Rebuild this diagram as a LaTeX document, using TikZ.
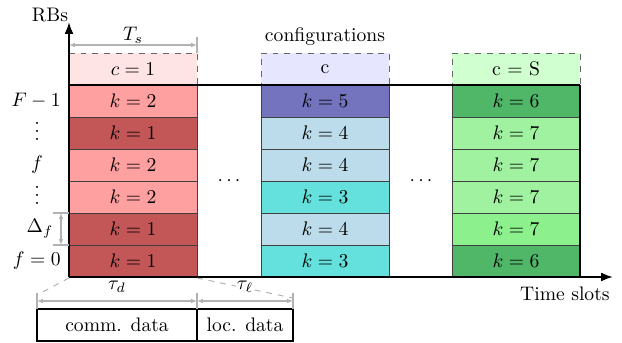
\documentclass[tikz,border=0pt]{standalone}
\usetikzlibrary{arrows.meta}
\definecolor{hA}{RGB}{255,228,230}
\definecolor{hB}{RGB}{230,230,255}
\definecolor{hC}{RGB}{208,255,208}
\definecolor{rL}{RGB}{255,160,160}
\definecolor{rD}{RGB}{195,87,87}
\definecolor{bV}{RGB}{115,115,190}
\definecolor{bL}{RGB}{188,220,235}
\definecolor{bT}{RGB}{100,225,220}
\definecolor{gD}{RGB}{80,183,105}
\definecolor{gL}{RGB}{160,242,160}
\definecolor{gB}{RGB}{140,240,140}
\newcommand{\tightvdots}{\raisebox{0pt}[9.6pt][0pt]{$\vdots$}}
\begin{document}
\begin{tikzpicture}[x=0.51pt,y=-0.51pt,
  cell/.style={draw=black!75, line width=0.4pt, minimum width=65.28pt, minimum height=16.32pt, inner sep=0pt},
  hdr/.style={draw=black!60, dashed, line width=0.5pt, minimum width=65.28pt, minimum height=16.32pt, inner sep=0pt},
  dim/.style={black!30, line width=0.6pt, {Latex[length=3pt,width=2.4pt]}-{Latex[length=3pt,width=2.4pt]}},
  tickline/.style={black!30, line width=0.6pt},
  zoomline/.style={black!30, dashed, line width=0.5pt},
  axis/.style={line width=1pt, -{Latex[length=6pt,width=4.5pt]}},
  lbl/.style={inner sep=1pt},
  vdot/.style={inner sep=0pt},
  databox/.style={draw, line width=0.6pt, minimum height=16.32pt, inner sep=0pt}]
\useasboundingbox (0,0) rectangle (622,343);

% headers
\node[hdr, fill=hA] (h1) at (133,69) {$c=1$};
\node[hdr, fill=hB] (h2) at (325,69) {c};
\node[hdr, fill=hC] (h3) at (516,69) {c = S};

% column 1
\node[cell, fill=rL] (a1) at (133,101) {$k=2$};
\node[cell, fill=rD] (a2) at (133,133) {$k=1$};
\node[cell, fill=rL] (a3) at (133,165) {$k=2$};
\node[cell, fill=rL] (a4) at (133,197) {$k=2$};
\node[cell, fill=rD] (a5) at (133,229) {$k=1$};
\node[cell, fill=rD] (a6) at (133,261) {$k=1$};
% column 2
\node[cell, fill=bV] (b1) at (325,101) {$k=5$};
\node[cell, fill=bL] (b2) at (325,133) {$k=4$};
\node[cell, fill=bL] (b3) at (325,165) {$k=4$};
\node[cell, fill=bT] (b4) at (325,197) {$k=3$};
\node[cell, fill=bL] (b5) at (325,229) {$k=4$};
\node[cell, fill=bT] (b6) at (325,261) {$k=3$};
% column 3
\node[cell, fill=gD] (c1) at (516,101) {$k=6$};
\node[cell, fill=gL] (c2) at (516,133) {$k=7$};
\node[cell, fill=gL] (c3) at (516,165) {$k=7$};
\node[cell, fill=gL] (c4) at (516,197) {$k=7$};
\node[cell, fill=gB] (c5) at (516,229) {$k=7$};
\node[cell, fill=gD] (c6) at (516,261) {$k=6$};

% dots
\node (d1) at (229,181) {$\cdots$};
\node (d2) at (421,181) {$\cdots$};

% frame and axes
\coordinate (O) at (69,277);
\coordinate (TL) at (69,85);
\coordinate (TR) at (580,85);
\coordinate (BR) at (580,277);
\coordinate (Xend) at (613,277);
\coordinate (Yend) at (69,22);
\draw[line width=1pt] (TL) -- (TR);
\draw[line width=0.8pt] (TR) -- (BR);
\draw[axis] (O) -- (Xend);
\draw[axis] (O) -- (Yend);
\node[lbl] (rbs) at (50,15) {RBs};
\node[lbl, anchor=north east] (ts) at (612,285) {Time slots};

% left labels
\node[lbl, anchor=east] (lF) at (63,101) {$F-1$};
\node[vdot] (lv1) at (37,131) {\tightvdots};
\node[vdot] (lf) at (37,165) {$f$};
\node[vdot] (lv2) at (37,195) {\tightvdots};
\node[vdot] (lD) at (40,229) {$\Delta_f$};
\node[lbl, anchor=east] (l0) at (63,261) {$f=0$};

% Delta_f dimension
\coordinate (df1) at (61,213);
\coordinate (df2) at (61,245);
\draw[dim] (df1) -- (df2);
\draw[tickline] (53,213) -- (69,213);
\draw[tickline] (53,245) -- (69,245);

% T_s dimension
\coordinate (ts1) at (69,45);
\coordinate (ts2) at (197,45);
\draw[dim] (ts1) -- (ts2);
\draw[tickline] (197,37) -- (197,53);
\node[lbl] (tslab) at (133,35) {$T_s$};
\node[lbl] (conf) at (325,37) {configurations};

% zoom lines
\coordinate (z1) at (69,278);
\coordinate (z2) at (197,278);
\coordinate (z3) at (37,295);
\coordinate (z4) at (293,298);
\draw[zoomline] (z1) -- (z3);
\draw[zoomline] (z2) -- (z4);

% data boxes
\node[databox, minimum width=81.6pt] (comm) at (117,325) {comm. data};
\node[databox, minimum width=48.96pt] (loc) at (245,325) {loc. data};

% tau dimensions
\coordinate (t1) at (37,301);
\coordinate (t2) at (197,301);
\coordinate (t3) at (293,301);
\draw[dim] (t1) -- (t2);
\draw[dim] (t2) -- (t3);
\draw[tickline] (37,293) -- (37,309);
\draw[tickline] (197,293) -- (197,309);
\draw[tickline] (293,293) -- (293,309);
\node[lbl] (td) at (117,287) {$\tau_d$};
\node[lbl, fill=white, inner sep=0.5pt] (tl) at (245,287) {$\tau_\ell$};
\end{tikzpicture}
\end{document}
